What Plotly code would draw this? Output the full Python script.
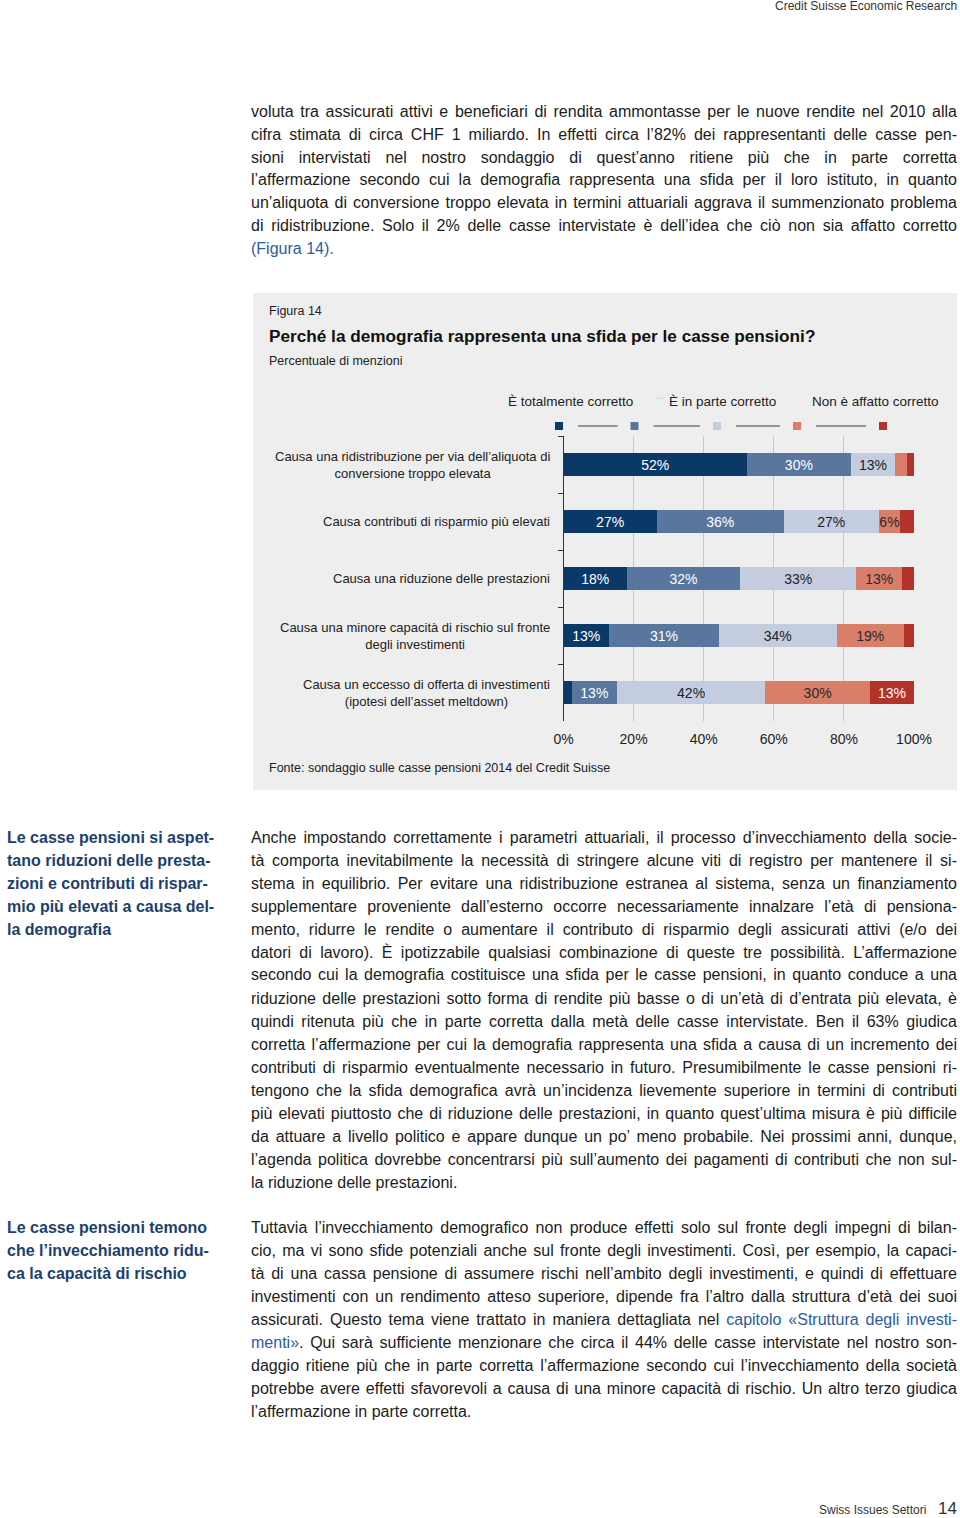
import json
import plotly.graph_objects as go

# ---------------- data ----------------
categories = [
    "Causa una ridistribuzione per via dell’aliquota di<br>conversione troppo elevata",
    "Causa contributi di risparmio più elevati",
    "Causa una riduzione delle prestazioni",
    "Causa una minore capacità di rischio sul fronte<br>degli investimenti",
    "Causa un eccesso di offerta di investimenti<br>(ipotesi dell’asset meltdown)",
]
cat_keys = ["c1", "c2", "c3", "c4", "c5"]
totalmente = [52.3, 26.6, 18.1, 13.0, 2.4]
piuttosto = [29.7, 36.2, 32.3, 31.3, 12.8]
in_parte = [12.6, 27.2, 33.1, 33.6, 42.4]
poco = [3.5, 6.0, 13.2, 19.2, 29.8]
affatto = [1.9, 4.0, 3.3, 2.9, 12.6]
series_values = [totalmente, piuttosto, in_parte, poco, affatto]
series_names = ["totalmente", "piuttosto", "in parte", "poco", "affatto"]
series_colors = ["#0a3968", "#58769e", "#c4cde0", "#d97e68", "#b3322a"]
label_colors = ["#ffffff", "#ffffff", "#222222", "#2a2a2a", "#ffffff"]
legend_labels = ["È totalmente corretto", "È in parte corretto", "Non è affatto corretto"]
tick_vals = [0, 20, 40, 60, 80, 100]
tick_text = ["0%", "20%", "40%", "60%", "80%", "100%"]

W, H = 960, 1518
FONT = "Liberation Sans, Arial, Helvetica, sans-serif"
TXT = "#1c1c1c"
BLUE_LINK = "#2b5c9c"
SIDE = "#1d3f6c"
PAD = 2  # annotation inner padding


def px(x):
    return x / W


def py(y):
    return 1 - y / H


fig = go.Figure()
for vals, name, col, lc in zip(series_values, series_names, series_colors, label_colors):
    fig.add_trace(go.Bar(
        y=cat_keys, x=vals, name=name, orientation="h",
        marker=dict(color=col, line=dict(width=0)),
        text=[f"{v:.0f}%" if v >= 5 else "" for v in vals],
        textposition="inside", insidetextanchor="middle", textangle=0,
        textfont=dict(family=FONT, size=14, color=lc),
        hoverinfo="skip", showlegend=False,
    ))

annotations = []
shapes = []
justified = []


def add_text(x, y, text, size=16, color=TXT, bold=False, xanchor="left", align="left", justify=False):
    if bold:
        text = "<b>" + text + "</b>"
    if xanchor == "left":
        x -= PAD
    elif xanchor == "right":
        x += PAD
    annotations.append(dict(
        x=px(x), y=py(y), xref="paper", yref="paper", text=text, showarrow=False,
        xanchor=xanchor, yanchor="middle", align=align,
        font=dict(family=FONT, size=size, color=color),
    ))
    if justify:
        justified.append(len(annotations) - 1)


def paragraph(x, y0, lines, size=16, color=TXT, bold=False, just=True, lh=23):
    for i, ln in enumerate(lines):
        add_text(x, y0 + i * lh, ln, size=size, color=color, bold=bold,
                 justify=(just and i < len(lines) - 1))


# header / footer
add_text(957, 6, "Credit Suisse Economic Research", size=12, color="#333333", xanchor="right", align="right")
add_text(926, 1510, "Swiss Issues Settori", size=12, color="#333333", xanchor="right", align="right")
add_text(957, 1508, "14", size=17, color="#333333", xanchor="right", align="right")

# paragraph 1
p1 = [
    "voluta tra assicurati attivi e beneficiari di rendita ammontasse per le nuove rendite nel 2010 alla",
    "cifra stimata di circa CHF 1 miliardo. In effetti circa l’82% dei rappresentanti delle casse pen-",
    "sioni intervistati nel nostro sondaggio di quest’anno ritiene più che in parte corretta",
    "l’affermazione secondo cui la demografia rappresenta una sfida per il loro istituto, in quanto",
    "un’aliquota di conversione troppo elevata in termini attuariali aggrava il summenzionato problema",
    "di ridistribuzione. Solo il 2% delle casse intervistate è dell’idea che ciò non sia affatto corretto",
]
for i, ln in enumerate(p1):
    add_text(251, 111 + 23 * i, ln, justify=True)
add_text(251, 249, "(Figura 14).", color=BLUE_LINK)

# chart panel
shapes.append(dict(type="rect", xref="paper", yref="paper", x0=px(253), x1=px(957),
                   y0=py(790), y1=py(293), fillcolor="#eeeeee", line=dict(width=0), layer="below"))
add_text(269, 311, "Figura 14", size=12.5, color="#222222")
add_text(269, 336, "Perché la demografia rappresenta una sfida per le casse pensioni?", size=17.2, color="#111111", bold=True)
add_text(269, 361, "Percentuale di menzioni", size=12.5, color="#222222")
add_text(269, 768, "Fonte: sondaggio sulle casse pensioni 2014 del Credit Suisse", size=12.5, color="#222222")

# legend (labels above, colour keys below joined by lines)
leg_text_x = [570, 722, 875]
for lx, lab in zip(leg_text_x, legend_labels):
    add_text(lx, 401, lab, size=13.5, color="#222222", xanchor="center", align="center")
shapes.append(dict(type="line", xref="paper", yref="paper", x0=px(657), x1=px(665),
                   y0=py(398), y1=py(398), line=dict(color="#d4d4d4", width=1)))
sq_x = [559, 634.5, 717, 797, 883]
for cx, col in zip(sq_x, series_colors):
    shapes.append(dict(type="rect", xref="paper", yref="paper", x0=px(cx - 4), x1=px(cx + 4),
                       y0=py(430), y1=py(422), fillcolor=col, line=dict(width=0)))
for a, b in zip(sq_x[:-1], sq_x[1:]):
    shapes.append(dict(type="line", xref="paper", yref="paper", x0=px(a + 19), x1=px(b - 17),
                       y0=py(426), y1=py(426), line=dict(color="#777777", width=1.3)))

# category labels
for key, lab in zip(cat_keys, categories):
    annotations.append(dict(x=px(552), y=key, xref="paper", yref="y", text=lab, showarrow=False,
                            xanchor="right", yanchor="middle", align="center",
                            font=dict(family=FONT, size=13, color="#222222")))

# sidebar 1 + paragraph 2
paragraph(7, 837, ["Le casse pensioni si aspet-", "tano riduzioni delle presta-",
                   "zioni e contributi di rispar-", "mio più elevati a causa del-",
                   "la demografia"], size=16, color=SIDE, bold=True, just=False)
p2 = [
    "Anche impostando correttamente i parametri attuariali, il processo d’invecchiamento della socie-",
    "tà comporta inevitabilmente la necessità di stringere alcune viti di registro per mantenere il si-",
    "stema in equilibrio. Per evitare una ridistribuzione estranea al sistema, senza un finanziamento",
    "supplementare proveniente dall’esterno occorre necessariamente innalzare l’età di pensiona-",
    "mento, ridurre le rendite o aumentare il contributo di risparmio degli assicurati attivi (e/o dei",
    "datori di lavoro). È ipotizzabile qualsiasi combinazione di queste tre possibilità. L’affermazione",
    "secondo cui la demografia costituisce una sfida per le casse pensioni, in quanto conduce a una",
    "riduzione delle prestazioni sotto forma di rendite più basse o di un’età di d’entrata più elevata, è",
    "quindi ritenuta più che in parte corretta dalla metà delle casse intervistate. Ben il 63% giudica",
    "corretta l’affermazione per cui la demografia rappresenta una sfida a causa di un incremento dei",
    "contributi di risparmio eventualmente necessario in futuro. Presumibilmente le casse pensioni ri-",
    "tengono che la sfida demografica avrà un’incidenza lievemente superiore in termini di contributi",
    "più elevati piuttosto che di riduzione delle prestazioni, in quanto quest’ultima misura è più difficile",
    "da attuare a livello politico e appare dunque un po’ meno probabile. Nei prossimi anni, dunque,",
    "l’agenda politica dovrebbe concentrarsi più sull’aumento dei pagamenti di contributi che non sul-",
    "la riduzione delle prestazioni.",
]
paragraph(251, 837, p2)

# sidebar 2 + paragraph 3
paragraph(7, 1227, ["Le casse pensioni temono", "che l’invecchiamento ridu-",
                    "ca la capacità di rischio"], size=16, color=SIDE, bold=True, just=False)
p3 = [
    "Tuttavia l’invecchiamento demografico non produce effetti solo sul fronte degli impegni di bilan-",
    "cio, ma vi sono sfide potenziali anche sul fronte degli investimenti. Così, per esempio, la capaci-",
    "tà di una cassa pensione di assumere rischi nell’ambito degli investimenti, e quindi di effettuare",
    "investimenti con un rendimento atteso superiore, dipende fra l’altro dalla struttura d’età dei suoi",
    f"assicurati. Questo tema viene trattato in maniera dettagliata nel <span style='color:{BLUE_LINK}'>capitolo «Struttura degli investi-</span>",
    f"<span style='color:{BLUE_LINK}'>menti»</span>. Qui sarà sufficiente menzionare che circa il 44% delle casse intervistate nel nostro son-",
    "daggio ritiene più che in parte corretta l’affermazione secondo cui l’invecchiamento della società",
    "potrebbe avere effetti sfavorevoli a causa di una minore capacità di rischio. Un altro terzo giudica",
    "l’affermazione in parte corretta.",
]
paragraph(251, 1227, p3)

fig.update_layout(
    width=W, height=H, autosize=False,
    margin=dict(l=0, r=0, t=0, b=0, pad=0, autoexpand=False),
    paper_bgcolor="#ffffff", plot_bgcolor="rgba(0,0,0,0)",
    barmode="stack", bargap=0.6,
    uniformtext=dict(minsize=14, mode="show"),
    font=dict(family=FONT, color="#222222"),
    annotations=annotations, shapes=shapes,
    xaxis=dict(domain=[px(563.5), px(914)], range=[0, 100], tickvals=tick_vals, ticktext=tick_text,
               showgrid=True, gridcolor="#c8c8c8", gridwidth=1, zeroline=False, showline=False,
               ticks="outside", ticklen=5, tickcolor="rgba(0,0,0,0)", automargin=False,
               tickfont=dict(family=FONT, size=14, color="#222222"), fixedrange=True),
    yaxis=dict(domain=[py(721), py(436)], categoryorder="array", categoryarray=cat_keys,
               autorange="reversed", showticklabels=False, showgrid=False, zeroline=False,
               showline=True, linecolor="#333333", linewidth=1, automargin=False,
               ticks="outside", tickson="boundaries", ticklen=5, tickcolor="#333333", fixedrange=True),
    hovermode=False,
)

post = """
document.body.style.margin = '0';
var gd = document.getElementById('{plot_id}');
var JIDX = %s;
var RIGHT = 957;
function justifyLines(){
  var gr = gd.getBoundingClientRect();
  JIDX.forEach(function(i){
    var g = gd.querySelector('.annotation[data-index="' + i + '"]');
    if(!g) return;
    var t = g.querySelector('text.annotation-text');
    if(!t) return;
    t.style.wordSpacing = '0px';
    var n = (t.textContent.match(/ /g) || []).length;
    if(!n) return;
    var r = t.getBoundingClientRect();
    var len = t.getComputedTextLength();
    var ws = (RIGHT + gr.left - r.left - len) / n;
    t.style.wordSpacing = ws + 'px';
  });
}
justifyLines();
if (gd.on) { gd.on('plotly_afterplot', justifyLines); }
""" % json.dumps(justified)

fig.write_html("out.html", post_script=post, config={"displayModeBar": False})
